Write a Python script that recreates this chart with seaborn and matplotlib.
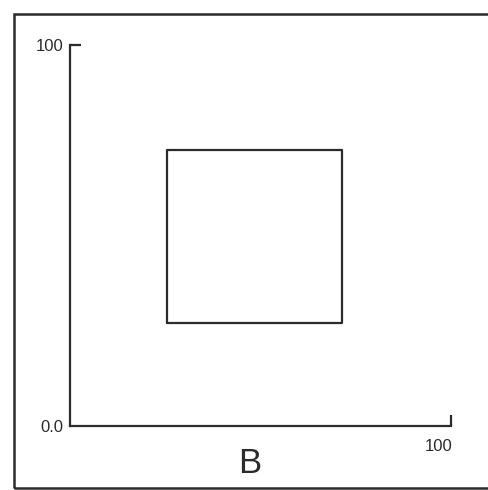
import numpy as np
import pandas as pd
import matplotlib
matplotlib.use('Agg')
import matplotlib.pyplot as plt
from matplotlib.patches import Rectangle
import seaborn as sns

# axis range and the box drawn inside it
x_range = [0, 100]
y_range = [0, 100]
box_left, box_right = 25.5, 71.4
box_bottom, box_top = 27.0, 72.4
panel_label = 'B'

sns.set_style('white')
plt.rcParams['font.family'] = ['Liberation Sans', 'DejaVu Sans']

ink = '#2b2b2b'

# closed outline of the box
box = pd.DataFrame({
    'x': [box_left, box_right, box_right, box_left, box_left],
    'y': [box_bottom, box_bottom, box_top, box_top, box_bottom],
})

fig = plt.figure(figsize=(4.88, 4.90), dpi=100)
ax = fig.add_axes([70 / 488, 1 - 426 / 490, 381 / 488, 381 / 490])

sns.lineplot(data=box, x='x', y='y', sort=False, estimator=None,
             color=ink, linewidth=1.6, ax=ax)

ax.set_xlim(x_range)
ax.set_ylim(y_range)
sns.despine(ax=ax)
for side in ['left', 'bottom']:
    ax.spines[side].set_color(ink)
    ax.spines[side].set_linewidth(1.6)

# y ticks: 0.0 label only, tick mark at 100
ax.set_yticks(y_range)
ax.set_yticklabels(['0.0', '100'], fontsize=12, color=ink)
ax.tick_params(axis='y', left=True, direction='in', length=8, width=1.6,
               color=ink, pad=5)
ax.yaxis.get_major_ticks()[0].tick1line.set_visible(False)

# x tick mark at 100, label placed just below the end of the axis
ax.set_xticks([x_range[1]])
ax.set_xticklabels([''])
ax.tick_params(axis='x', bottom=True, direction='in', length=8, width=1.6,
               color=ink)
ax.text(x_range[1] + 0.5, -3.5, '100', ha='right', va='top', fontsize=12,
        color=ink)

ax.set_xlabel(panel_label, fontsize=25, color=ink)
ax.xaxis.set_label_coords(0.472, -0.055)
ax.set_ylabel('')

# outer frame of the scanned figure
fig.patches.append(Rectangle((14 / 488, 2 / 490), 1.0, 1 - 16 / 490,
                             transform=fig.transFigure, fill=False,
                             edgecolor=ink, linewidth=1.8))

fig.savefig('out.png', dpi=100)
